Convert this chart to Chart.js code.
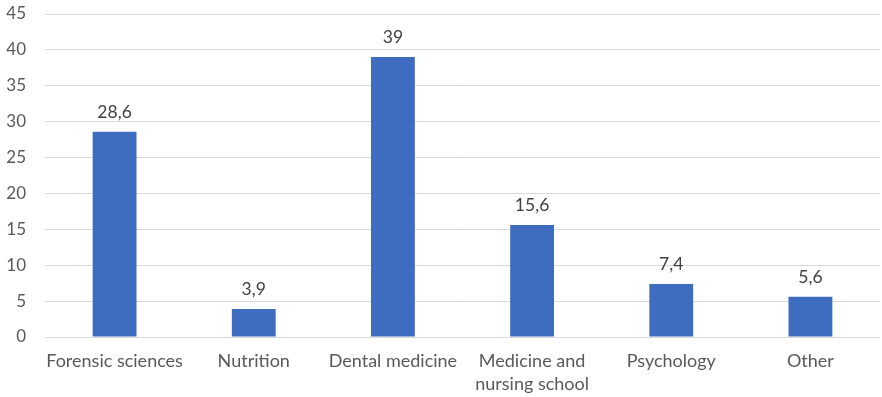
<!DOCTYPE html>
<html>
<head>
<meta charset="utf-8">
<script src="https://cdn.jsdelivr.net/npm/chart.js@4/dist/chart.umd.min.js"></script>
<style>
  html, body { margin: 0; padding: 0; background: #ffffff; }
  #wrap { width: 882px; height: 397px; }
</style>
</head>
<body>
<div id="wrap"><canvas id="chart" width="882" height="397"></canvas></div>
<script>
// Share of respondents by field (%)
const categories = [
  'Forensic sciences',
  'Nutrition',
  'Dental medicine',
  ['Medicine and', 'nursing school'],
  'Psychology',
  'Other'
];
const percentages = [28.6, 3.9, 39, 15.6, 7.4, 5.6];
const yTicks = [0, 5, 10, 15, 20, 25, 30, 35, 40, 45];

const FONT = 'Lato, "Open Sans", sans-serif';

// Value labels above each bar, written with a decimal comma
const valueLabels = {
  id: 'valueLabels',
  afterDatasetsDraw(chart) {
    const ctx = chart.ctx;
    const meta = chart.getDatasetMeta(0);
    ctx.save();
    ctx.font = '17.5px ' + FONT;
    ctx.fillStyle = '#404040';
    ctx.textAlign = 'center';
    ctx.textBaseline = 'bottom';
    meta.data.forEach((bar, i) => {
      const txt = String(percentages[i]).replace('.', ',');
      ctx.fillText(txt, bar.x, bar.y - 11);
    });
    ctx.restore();
  }
};

new Chart(document.getElementById('chart'), {
  type: 'bar',
  data: {
    labels: categories,
    datasets: [{
      data: percentages,
      backgroundColor: '#3E6DBF',
      borderWidth: 0,
      categoryPercentage: 1,
      barPercentage: 0.315
    }]
  },
  options: {
    responsive: false,
    animation: false,
    layout: { padding: { top: 14, right: 2, left: 0, bottom: 0 } },
    plugins: { legend: { display: false }, tooltip: { enabled: false } },
    scales: {
      x: {
        grid: { display: false },
        border: { display: false },
        ticks: {
          color: '#595959',
          font: { family: FONT, size: 18, lineHeight: 1.3 },
          padding: 4,
          maxRotation: 0,
          autoSkip: false
        },
        afterFit(scale) { scale.height = 60; }
      },
      y: {
        min: 0,
        max: 45,
        afterBuildTicks(scale) { scale.ticks = yTicks.map(v => ({ value: v })); },
        grid: { color: '#D9D9D9', drawTicks: false, lineWidth: 1 },
        border: { display: false },
        ticks: {
          color: '#595959',
          font: { family: FONT, size: 17 },
          padding: 19
        },
        afterFit(scale) {
          scale.width = 45;
          scale.paddingTop = 0;
          scale.paddingBottom = 0;
        }
      }
    }
  },
  plugins: [valueLabels]
});
</script>
</body>
</html>
